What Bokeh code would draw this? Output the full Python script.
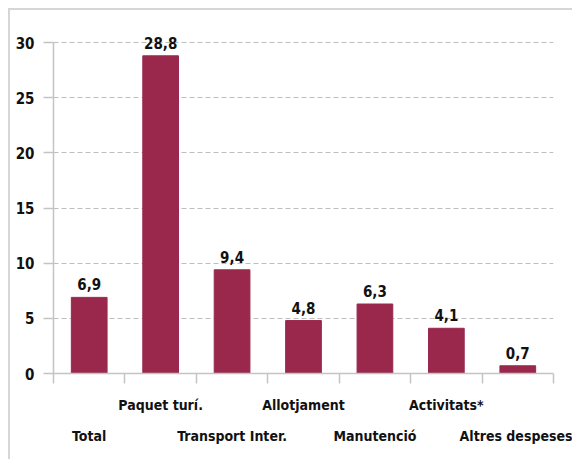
from bokeh.plotting import figure
from bokeh.models import Range1d, FixedTicker, ColumnDataSource
from bokeh.core.properties import value
from bokeh.embed import file_html
from bokeh.resources import INLINE

categories = ["Total", "Paquet turí.", "Transport Inter.", "Allotjament",
              "Manutenció", "Activitats*", "Altres despeses"]
values = [6.9, 28.8, 9.4, 4.8, 6.3, 4.1, 0.7]
y_ticks = [0, 5, 10, 15, 20, 25, 30]

FONT = "DejaVu Sans Condensed"
BAR = "#9a284d"
AXIS = "#c4c4c4"

n = len(categories)
centers = [i + 0.5 for i in range(n)]
labels = [f"{v:.1f}".replace(".", ",") for v in values]

src = ColumnDataSource(dict(x=centers, top=values, lab=labels))

p = figure(width=564, height=451, output_backend="svg", toolbar_location=None,
           x_range=Range1d(0, n), y_range=Range1d(0, 32),
           min_border_left=43, min_border_right=21, min_border_top=10,
           min_border_bottom=88)
p.styles = {"margin-left": "8px", "margin-top": "8px",
            "border-top": "2px solid #d6d6d6", "border-left": "2px solid #d6d6d6"}
p.outline_line_color = None
p.xgrid.grid_line_color = None
p.background_fill_color = "white"

p.vbar(x="x", top="top", width=0.5, source=src, color=BAR)
p.text(x="x", y="top", text="lab", source=src, text_align="center",
       text_baseline="alphabetic", y_offset=-13, text_font=value(FONT),
       text_font_style="bold", text_font_size="15px", text_color="#111111")

# y axis
ya = p.yaxis[0]
ya.ticker = FixedTicker(ticks=y_ticks)
ya.bounds = (y_ticks[0], y_ticks[-1])
ya.axis_line_color = AXIS
ya.axis_line_width = 1.5
ya.major_tick_line_color = AXIS
ya.major_tick_line_width = 1.5
ya.major_tick_out = 10
ya.major_tick_in = 0
ya.minor_tick_line_color = None
ya.major_label_standoff = 9
ya.major_label_text_font = FONT
ya.major_label_text_font_style = "bold"
ya.major_label_text_font_size = "15px"
ya.major_label_text_color = "#111111"

p.ygrid.grid_line_color = "#bdbdbd"
p.ygrid.grid_line_dash = "5 3"
p.ygrid.grid_line_width = 1

# x axis: labels at centres, tick marks at category boundaries
xa = p.xaxis[0]
xa.ticker = FixedTicker(ticks=centers, minor_ticks=list(range(n + 1)))
xa.major_label_overrides = {c: (lab if i % 2 == 1 else "\u00a0\n" + lab)
                            for i, (c, lab) in enumerate(zip(centers, categories))}
xa.axis_line_color = AXIS
xa.axis_line_width = 1.5
xa.major_tick_line_color = None
xa.major_tick_out = 0
xa.major_tick_in = 0
xa.minor_tick_line_color = AXIS
xa.minor_tick_line_width = 1.5
xa.minor_tick_out = 10
xa.minor_tick_in = 0
xa.major_label_standoff = 13
xa.major_label_text_font = FONT
xa.major_label_text_font_style = "bold"
xa.major_label_text_font_size = "14px"
xa.major_label_text_color = "#111111"
xa.major_label_text_line_height = 1.95

open("out.html", "w").write(file_html(p, INLINE))
